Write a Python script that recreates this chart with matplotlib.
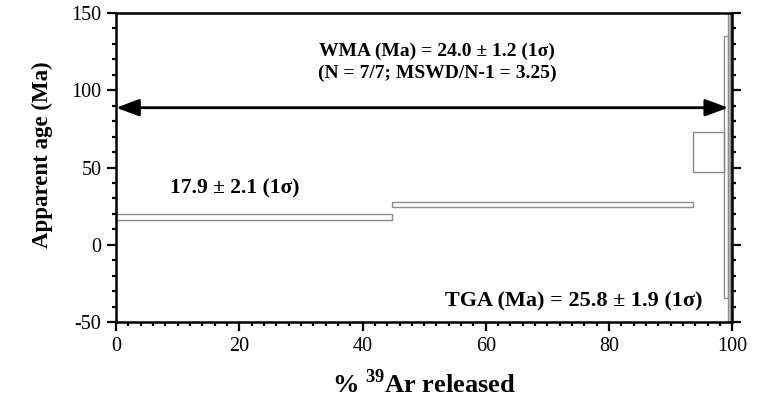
"""
Age spectrum: apparent age vs cumulative % 39Ar released
"""

import matplotlib
matplotlib.use("Agg")
import matplotlib.pyplot as plt
from matplotlib.patches import Rectangle, FancyArrowPatch
from matplotlib.ticker import MultipleLocator

# step heating data (cumulative % 39Ar at step edges, age and 1 sigma)
step_edges = [0.0, 44.8, 93.7, 98.7, 99.3, 99.6, 99.8, 100.0]
step_age = [17.9, 26.2, 60.2, 50.2, 40.0, 50.0, 45.0]
step_err = [2.1, 1.6, 13.0, 84.8, 300.0, 300.0, 300.0]

wma_text = "WMA (Ma) = 24.0 \u00b1 1.2 (1\u03c3)\n(N = 7/7; MSWD/N-1 = 3.25)"
first_step_text = "17.9 \u00b1 2.1 (1\u03c3)"
tga_text = "TGA (Ma) = 25.8 \u00b1 1.9 (1\u03c3)"
arrow_y = 88.7

plt.rcParams['font.family'] = ['Liberation Serif', 'DejaVu Serif']
plt.rcParams['mathtext.fontset'] = 'custom'
plt.rcParams['mathtext.rm'] = 'Liberation Serif'
plt.rcParams['mathtext.bf'] = 'Liberation Serif:bold'
plt.rcParams['axes.unicode_minus'] = False

fig = plt.figure(figsize=(7.74, 4.09), dpi=100)
ax = fig.add_axes([0.1499, 0.2127, 0.9461 - 0.1499, 0.9682 - 0.2127])

# one box per heating step
for i in range(len(step_age)):
    x0 = step_edges[i]
    w = step_edges[i + 1] - x0
    lo = step_age[i] - step_err[i]
    ax.add_patch(Rectangle((x0, lo), w, 2 * step_err[i], facecolor='none',
                           edgecolor='#8a8a8a', linewidth=1.0, zorder=2))

# plateau arrow
arrow = FancyArrowPatch((0, arrow_y), (99.35, arrow_y),
                        arrowstyle='<|-|>,head_length=1.0,head_width=0.37',
                        mutation_scale=14, color='black', linewidth=2.0,
                        shrinkA=0, shrinkB=0, zorder=4)
ax.add_patch(arrow)

ax.text(52.1, 118, wma_text, ha='center', va='center', fontsize=14,
        fontweight='bold', linespacing=1.3)
ax.text(8.8, 36.5, first_step_text, ha='left', va='center', fontsize=15.5,
        fontweight='bold')
ax.text(95.2, -37, tga_text, ha='right', va='center', fontsize=16,
        fontweight='bold')

ax.set_xlim(0, 100)
ax.set_ylim(-50, 150)

ax.xaxis.set_major_locator(MultipleLocator(20))
ax.xaxis.set_minor_locator(MultipleLocator(2))
ax.yaxis.set_major_locator(MultipleLocator(50))
ax.yaxis.set_minor_locator(MultipleLocator(10))

ax.tick_params(which='both', direction='out', width=1.6, labelsize=14.5,
               left=True, right=True, top=False, bottom=True,
               labelright=False)
ax.tick_params(which='major', length=6.5)
ax.tick_params(which='minor', length=3.2)
ax.tick_params(axis='x', which='major', pad=4)
ax.tick_params(axis='y', which='major', pad=4)

for side in ['left', 'right', 'top', 'bottom']:
    ax.spines[side].set_linewidth(1.8)

ax.set_ylabel('Apparent age (Ma)', fontsize=16.5, fontweight='bold')
ax.yaxis.set_label_coords(-0.102, 0.54)
ax.set_xlabel(r'% $^{\mathbf{39}}$Ar released', fontsize=19,
              fontweight='bold', labelpad=10)

plt.savefig('out.png', dpi=100)
